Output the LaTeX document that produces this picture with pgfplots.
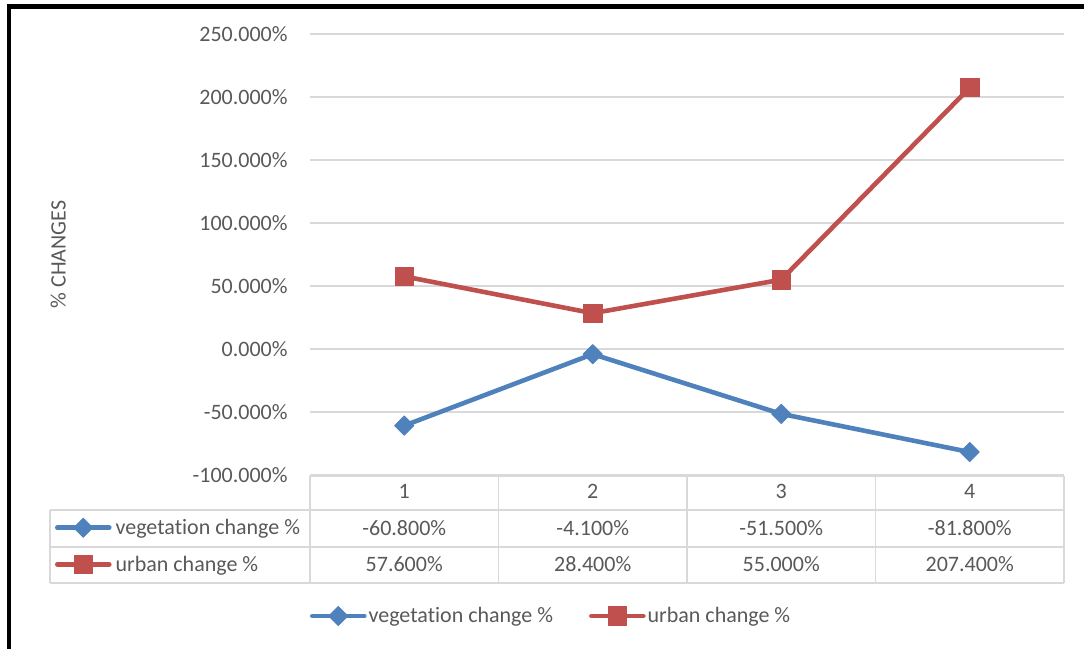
\documentclass[border=0pt]{standalone}
\usepackage{fontspec}
\setmainfont{Carlito}[Ligatures=NoCommon]
\usepackage{pgfplots}
\usepackage{pgfplotstable}
\pgfplotsset{compat=1.18}

\definecolor{vegblue}{RGB}{79,129,189}
\definecolor{urbred}{RGB}{192,80,77}
\definecolor{txtgray}{RGB}{89,89,89}
\definecolor{gridgray}{RGB}{217,217,217}

% change per period, in percent
\pgfplotstableread{
cat veg urb
1 -60.8 57.6
2 -4.1 28.4
3 -51.5 55.0
4 -81.8 207.4
}\changes

\newcommand{\chartfont}{\fontsize{11}{13}\selectfont}
\newcommand{\pct}[1]{\pgfmathprintnumber[fixed,fixed zerofill,precision=3,assume math mode=true]{#1}\%}

\pgfplotsset{
  lgimg/.style={legend image code/.code={%
    \draw[line cap=round,mark repeat=2,mark phase=2,##1] plot coordinates {(0pt,0pt) (13pt,0pt) (26pt,0pt)};}},
  vegstyle/.style={color=vegblue, line width=2.3pt, line join=round, mark=square*, mark size=3.4pt,
    mark options={solid, rotate=45, line width=0.4pt}},
  urbstyle/.style={color=urbred, line width=2.3pt, line join=round, mark=square*, mark size=4.6pt,
    mark options={solid, line width=0.4pt}},
  box/.style={at={(155pt,87pt)}, anchor=south west, scale only axis,
    width=377pt, height=220.5pt},
}

\begin{document}
\begin{tikzpicture}
\path[use as bounding box] (0,0) rectangle (542pt,324.5pt);

\begin{axis}[
  box,
  xmin=0.5, xmax=4.5, ymin=-100, ymax=250,
  xtick=\empty, ytick={-100,-50,...,250},
  axis line style={draw=none}, major tick length=0pt,
  ymajorgrids, grid style={gridgray, line width=0.6pt},
  tick label style={font=\chartfont, text=txtgray, inner sep=0pt},
  yticklabel style={xshift=-11pt},
  yticklabel={\pct{\tick}},
  ylabel={\% CHANGES},
  ylabel style={at={(axis description cs:-0.334,0.5)}, anchor=center,
    font=\chartfont, text=txtgray},
  lgimg,
  legend columns=2,
  legend style={at={(axis description cs:0,-0.3197)}, anchor=west,
    draw=none, fill=none, inner sep=0pt, outer sep=0pt,
    font=\chartfont, text=txtgray, cells={anchor=west},
    nodes={inner sep=0pt, text height=9pt, text depth=2pt},
    /tikz/every odd column/.append style={column sep=1pt},
    /tikz/every even column/.append style={column sep=18pt}},
]
\addplot[vegstyle] table[x=cat, y=veg] {\changes};
\addlegendentry{vegetation change \%}
\addplot[urbstyle] table[x=cat, y=urb] {\changes};
\addlegendentry{urban change \%}
\end{axis}

% keys in the data table's first column
\begin{axis}[
  box, hide axis, xmin=0, xmax=1, ymin=0, ymax=1,
  lgimg,
  legend style={at={(axis description cs:-0.3382,-0.161)}, anchor=west,
    draw=none, fill=none, inner sep=0pt, outer sep=0pt,
    font=\chartfont, text=txtgray, cells={anchor=west}, row sep=7.25pt,
    nodes={inner sep=0pt, text height=9pt, text depth=2pt},
    /tikz/every odd column/.append style={column sep=2pt}},
]
\addlegendimage{vegstyle}
\addlegendentry{vegetation change \%}
\addlegendimage{urbstyle}
\addlegendentry{urban change \%}
\end{axis}

\begin{scope}[x=0.5pt, y=0.5pt, font=\chartfont, text=txtgray]
  \draw[gridgray, line width=0.7pt]
    (310,173) -- (1064,173)
    (50,139) -- (1064,139)
    (50,102) -- (1064,102)
    (50,66) -- (1064,66)
    (50,139) -- (50,66)
    (310,173) -- (310,66)
    (498.5,173) -- (498.5,66)
    (687,173) -- (687,66)
    (875.5,173) -- (875.5,66)
    (1064,173) -- (1064,66);
  \foreach \i in {0,...,3} {
    \pgfmathsetmacro\cx{310+188.5*(\i+0.5)}
    \pgfplotstablegetelem{\i}{cat}\of\changes
    \node[anchor=base, inner sep=0pt] at (\cx,150) {\pgfplotsretval};
    \pgfplotstablegetelem{\i}{veg}\of\changes
    \node[anchor=base, inner sep=0pt] at (\cx,113) {\pct{\pgfplotsretval}};
    \pgfplotstablegetelem{\i}{urb}\of\changes
    \node[anchor=base, inner sep=0pt] at (\cx,77) {\pct{\pgfplotsretval}};
  }
  \draw[black, line width=2.4pt] (9,0) -- (9,642.5) -- (1084,642.5);
\end{scope}
\end{tikzpicture}
\end{document}
